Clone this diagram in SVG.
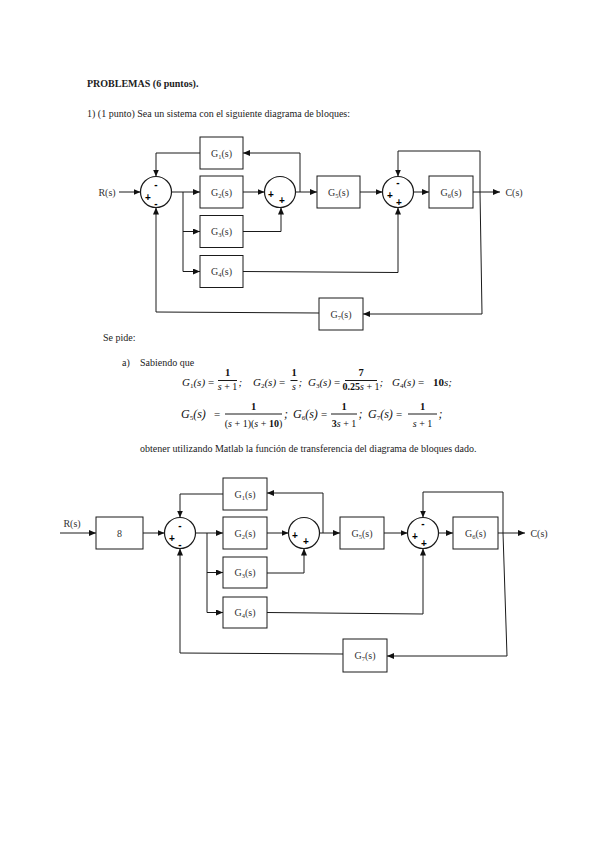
<svg xmlns="http://www.w3.org/2000/svg" width="599" height="848" viewBox="0 0 599 848">
<defs>
<marker id="ah" markerUnits="userSpaceOnUse" markerWidth="7" markerHeight="6" refX="7" refY="3" orient="auto">
<path d="M0,0 L7,3 L0,6 z" fill="#111"/>
</marker>
<style>
.ln{stroke:#1a1a1a;stroke-width:1;fill:none}
.ar{stroke:#1a1a1a;stroke-width:1;fill:none;marker-end:url(#ah)}
.box{fill:#fff;stroke:#1a1a1a;stroke-width:1}
.sum{fill:#fff;stroke:#1a1a1a;stroke-width:1.2}
.lbl{font-family:"Liberation Serif",serif;font-size:10px;fill:#333;text-anchor:middle}
.sub{font-size:6.5px}
.sg{font-family:"Liberation Sans",sans-serif;font-size:10px;font-weight:bold;fill:#000;text-anchor:middle}
.tx{font-family:"Liberation Serif",serif;font-size:10px;fill:#222}
.eq{font-family:"Liberation Serif",serif;font-size:11px;font-style:italic;fill:#111}
.eq2{font-family:"Liberation Serif",serif;font-size:12px;font-style:italic;fill:#111}
.op{font-family:"Liberation Serif",serif;font-size:11px;fill:#111}
.num{font-family:"Liberation Serif",serif;font-size:10.5px;font-weight:bold;fill:#111;text-anchor:middle}
.den{font-family:"Liberation Serif",serif;font-size:10px;fill:#111;text-anchor:middle}
.esub{font-size:7px;font-style:normal}
</style>
</defs>
<rect width="599" height="848" fill="#fff"/>

<!-- Texts -->
<text class="tx" x="87" y="87" font-weight="bold">PROBLEMAS (6 puntos).</text>
<text class="tx" x="87" y="117">1)  (1 punto) Sea un sistema con el siguiente diagrama de bloques:</text>
<text class="tx" x="103" y="341">Se pide:</text>
<text class="tx" x="122" y="366">a)</text>
<text class="tx" x="140" y="366">Sabiendo que</text>
<text class="tx" x="140" y="452">obtener utilizando Matlab la función de transferencia del diagrama de bloques dado.</text>

<!-- Equations line 1 -->
<g id="eq1">
<text class="eq" x="182" y="386">G<tspan class="esub" dy="2">1</tspan><tspan dy="-2">(s)</tspan></text>
<text class="op" x="208" y="386">=</text>
<text class="num" x="227.5" y="376">1</text><line class="ln" x1="218" y1="380.5" x2="237" y2="380.5"/><text class="den" x="227.5" y="390"><tspan font-style="italic">s</tspan> + 1</text>
<text class="eq" x="238.5" y="386">;</text>
<text class="eq" x="253" y="386">G<tspan class="esub" dy="2">2</tspan><tspan dy="-2">(s)</tspan></text>
<text class="op" x="279" y="386">=</text>
<text class="num" x="294" y="376">1</text><line class="ln" x1="290.5" y1="380.5" x2="297.5" y2="380.5"/><text class="den" x="294" y="390" font-style="italic">s</text>
<text class="eq" x="298.5" y="386">;</text>
<text class="eq" x="308" y="386">G<tspan class="esub" dy="2">3</tspan><tspan dy="-2">(s)</tspan></text>
<text class="op" x="334" y="386">=</text>
<text class="num" x="361" y="376">7</text><line class="ln" x1="345" y1="380.5" x2="377" y2="380.5"/><text class="den" x="361" y="390" font-size="9"><tspan font-weight="bold">0.25</tspan><tspan font-style="italic">s</tspan> + 1</text>
<text class="eq" x="379.5" y="386">;</text>
<text class="eq" x="392" y="386">G<tspan class="esub" dy="2">4</tspan><tspan dy="-2">(s)</tspan></text>
<text class="op" x="418" y="386">=</text>
<text class="eq" x="433" y="386"><tspan font-weight="bold" font-style="normal">10</tspan>s;</text>
</g>
<!-- Equations line 2 -->
<g id="eq2">
<text class="eq2" x="181" y="418">G<tspan class="esub" dy="2">5</tspan><tspan dy="-2">(s)</tspan></text>
<text class="op" x="214" y="418" font-size="12">=</text>
<text class="num" x="253.5" y="410">1</text><line class="ln" x1="225" y1="414" x2="282" y2="414"/><text class="den" x="253.5" y="427">(<tspan font-style="italic">s</tspan> + 1)(<tspan font-style="italic">s</tspan> + <tspan font-weight="bold">10</tspan>)</text>
<text class="eq2" x="284" y="418">;</text>
<text class="eq2" x="293" y="418">G<tspan class="esub" dy="2">6</tspan><tspan dy="-2">(s)</tspan></text>
<text class="op" x="321" y="418" font-size="12">=</text>
<text class="num" x="344" y="410">1</text><line class="ln" x1="331" y1="414" x2="357" y2="414"/><text class="den" x="344" y="427"><tspan font-weight="bold">3</tspan><tspan font-style="italic">s</tspan> + 1</text>
<text class="eq2" x="358.5" y="418">;</text>
<text class="eq2" x="368" y="418">G<tspan class="esub" dy="2">7</tspan><tspan dy="-2">(s)</tspan></text>
<text class="op" x="396" y="418" font-size="12">=</text>
<text class="num" x="422.5" y="410">1</text><line class="ln" x1="408" y1="414" x2="437" y2="414"/><text class="den" x="422.5" y="427"><tspan font-style="italic">s</tspan> + 1</text>
<text class="eq2" x="438.5" y="418">;</text>
</g>

<!-- ===== Diagram 1 ===== -->
<g id="d1-connectors">
<line class="ar" x1="119" y1="192" x2="140.5" y2="192"/>
<line class="ar" x1="171.5" y1="192" x2="200" y2="192"/>
<polyline class="ln" points="183,192 183,271.5"/>
<line class="ar" x1="183" y1="231.5" x2="200" y2="231.5"/>
<line class="ar" x1="183" y1="271.5" x2="200" y2="271.5"/>
<line class="ar" x1="243" y1="192" x2="264.5" y2="192"/>
<polyline class="ar" points="243,231.5 281,231.5 281,207.5"/>
<line class="ar" x1="295.5" y1="192" x2="317" y2="192"/>
<polyline class="ar" points="300,192 300,153 243,153"/>
<polyline class="ar" points="200,153 156,153 156,176.5"/>
<line class="ar" x1="360" y1="192" x2="382.5" y2="192"/>
<line class="ar" x1="413.5" y1="192" x2="429" y2="192"/>
<line class="ar" x1="473" y1="192" x2="500" y2="192"/>
<polyline class="ar" points="480,192 480,151 398,151 398,176.5"/>
<polyline class="ar" points="243,271.5 398,272.5 398,207.5"/>
<polyline class="ar" points="480,192 482,314 363,314"/>
<polyline class="ar" points="319,313 156,312 156,207.5"/>
</g>
<g id="d1-R"><text class="lbl" x="107" y="195.5">R(s)</text></g>
<g id="d1-C"><text class="lbl" x="514" y="195.5">C(s)</text></g>
<g id="d1-S1"><circle class="sum" cx="156" cy="192" r="15.5"/><text class="sg" x="156" y="188">-</text><text class="sg" x="148" y="200.5">+</text><text class="sg" x="156" y="207">-</text></g>
<g id="d1-G1"><rect class="box" x="200" y="137" width="43" height="32"/><text class="lbl" x="221.5" y="156.5">G<tspan class="sub" dy="2">1</tspan><tspan dy="-2">(s)</tspan></text></g>
<g id="d1-G2"><rect class="box" x="200" y="176" width="43" height="32"/><text class="lbl" x="221.5" y="195.5">G<tspan class="sub" dy="2">2</tspan><tspan dy="-2">(s)</tspan></text></g>
<g id="d1-G3"><rect class="box" x="200" y="215.5" width="43" height="32"/><text class="lbl" x="221.5" y="235">G<tspan class="sub" dy="2">3</tspan><tspan dy="-2">(s)</tspan></text></g>
<g id="d1-G4"><rect class="box" x="200" y="255.5" width="43" height="32"/><text class="lbl" x="221.5" y="275">G<tspan class="sub" dy="2">4</tspan><tspan dy="-2">(s)</tspan></text></g>
<g id="d1-S2"><circle class="sum" cx="280" cy="192" r="15.5"/><text class="sg" x="271" y="197.5">+</text><text class="sg" x="282" y="204">+</text></g>
<g id="d1-G5"><rect class="box" x="317" y="176" width="43" height="32"/><text class="lbl" x="338.5" y="195.5">G<tspan class="sub" dy="2">5</tspan><tspan dy="-2">(s)</tspan></text></g>
<g id="d1-S3"><circle class="sum" cx="398" cy="192" r="15.5"/><text class="sg" x="398" y="186">-</text><text class="sg" x="390" y="198.5">+</text><text class="sg" x="399" y="205.5">+</text></g>
<g id="d1-G6"><rect class="box" x="429" y="176" width="44" height="32"/><text class="lbl" x="451" y="195.5">G<tspan class="sub" dy="2">6</tspan><tspan dy="-2">(s)</tspan></text></g>
<g id="d1-G7"><rect class="box" x="319" y="298" width="44" height="32"/><text class="lbl" x="341" y="317.5">G<tspan class="sub" dy="2">7</tspan><tspan dy="-2">(s)</tspan></text></g>

<!-- ===== Diagram 2 ===== -->
<g id="d2-connectors">
<line class="ar" x1="60" y1="533" x2="96" y2="533"/>
<line class="ar" x1="143" y1="533" x2="164.5" y2="533"/>
<line class="ar" x1="195.5" y1="533" x2="223" y2="533"/>
<polyline class="ln" points="207,533 207,612.5"/>
<line class="ar" x1="207" y1="572.5" x2="223" y2="572.5"/>
<line class="ar" x1="207" y1="612.5" x2="223" y2="612.5"/>
<line class="ar" x1="267" y1="533" x2="288.5" y2="533"/>
<polyline class="ar" points="267,573 304,573 304,548.5"/>
<line class="ar" x1="319.5" y1="533" x2="340" y2="533"/>
<polyline class="ar" points="323,533 323,493 267,493"/>
<polyline class="ar" points="223,494 180,494 180,517.5"/>
<line class="ar" x1="384" y1="533" x2="407.5" y2="533"/>
<line class="ar" x1="438.5" y1="533" x2="453" y2="533"/>
<line class="ar" x1="498" y1="533" x2="525" y2="533"/>
<polyline class="ar" points="503,533 503,492 423,492 423,517.5"/>
<polyline class="ar" points="267,612.5 423,614 423,548.5"/>
<polyline class="ar" points="503,533 507,656 387,656"/>
<polyline class="ar" points="343,654 180,653 180,548.5"/>
</g>
<g id="d2-R"><text class="lbl" x="72" y="527">R(s)</text></g>
<g id="d2-C"><text class="lbl" x="539" y="536.5">C(s)</text></g>
<g id="d2-K"><rect class="box" x="96" y="517" width="47" height="32"/><text class="lbl" x="119.5" y="536.5">8</text></g>
<g id="d2-S1"><circle class="sum" cx="180" cy="533" r="15.5"/><text class="sg" x="180" y="529">-</text><text class="sg" x="172" y="541.5">+</text><text class="sg" x="180" y="548">-</text></g>
<g id="d2-G1"><rect class="box" x="223" y="478" width="44" height="32"/><text class="lbl" x="245" y="497.5">G<tspan class="sub" dy="2">1</tspan><tspan dy="-2">(s)</tspan></text></g>
<g id="d2-G2"><rect class="box" x="223" y="517" width="44" height="32"/><text class="lbl" x="245" y="536.5">G<tspan class="sub" dy="2">2</tspan><tspan dy="-2">(s)</tspan></text></g>
<g id="d2-G3"><rect class="box" x="223" y="557" width="44" height="31"/><text class="lbl" x="245" y="576">G<tspan class="sub" dy="2">3</tspan><tspan dy="-2">(s)</tspan></text></g>
<g id="d2-G4"><rect class="box" x="223" y="597" width="44" height="31"/><text class="lbl" x="245" y="616">G<tspan class="sub" dy="2">4</tspan><tspan dy="-2">(s)</tspan></text></g>
<g id="d2-S2"><circle class="sum" cx="304" cy="533" r="15.5"/><text class="sg" x="295" y="538.5">+</text><text class="sg" x="306" y="545">+</text></g>
<g id="d2-G5"><rect class="box" x="340" y="517" width="44" height="32"/><text class="lbl" x="362" y="536.5">G<tspan class="sub" dy="2">5</tspan><tspan dy="-2">(s)</tspan></text></g>
<g id="d2-S3"><circle class="sum" cx="423" cy="533" r="15.5"/><text class="sg" x="423" y="527">-</text><text class="sg" x="415" y="539.5">+</text><text class="sg" x="424" y="546.5">+</text></g>
<g id="d2-G6"><rect class="box" x="453" y="517" width="45" height="32"/><text class="lbl" x="475.5" y="536.5">G<tspan class="sub" dy="2">6</tspan><tspan dy="-2">(s)</tspan></text></g>
<g id="d2-G7"><rect class="box" x="343" y="639" width="44" height="33"/><text class="lbl" x="365" y="659">G<tspan class="sub" dy="2">7</tspan><tspan dy="-2">(s)</tspan></text></g>
</svg>
